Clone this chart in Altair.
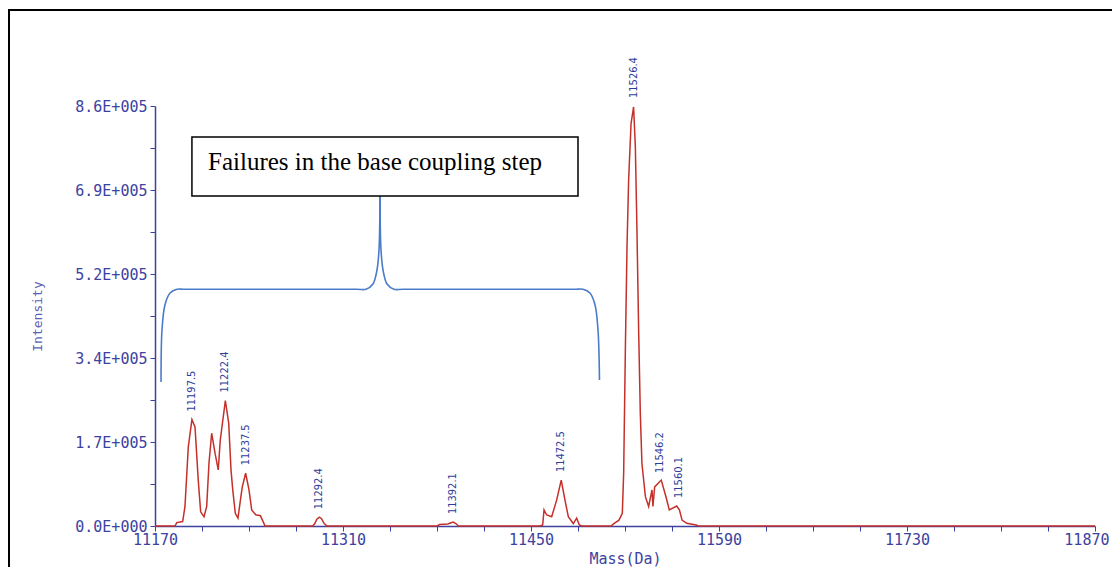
import altair as alt
import pandas as pd

# ---------------- data ----------------
mass_da = [11170, 11184.9, 11186.2, 11190.6, 11192.3, 11194.8, 11197.5, 11199.8, 11202.2, 11204.0,
           11206.5, 11208.5, 11210.2, 11212.2, 11214.7, 11217.1, 11218.6, 11222.4, 11224.9, 11226.6,
           11227.9, 11229.8, 11231.8, 11233.6, 11235.0, 11237.5, 11240.0, 11242.0, 11245.0, 11248.5,
           11250.0, 11252.0,
           11287.5, 11289.0, 11290.5, 11292.4, 11294.0, 11296.0, 11298.0,
           11380.0, 11382.0, 11388.0, 11390.0, 11392.1, 11394.0, 11396.0,
           11456.7, 11458.7, 11459.7, 11461.7, 11465.4, 11469.1, 11472.5, 11475.3, 11477.8, 11481.5,
           11484.0, 11486.0, 11487.8,
           11509.5, 11512.0, 11515.5, 11518.0, 11519.0, 11520.3, 11521.5, 11522.7, 11524.5, 11526.4,
           11527.7, 11528.9, 11530.2, 11531.4, 11532.6, 11535.2, 11537.6, 11540.1, 11540.8, 11542.1,
           11547.0, 11550.5, 11553.0, 11558.5, 11560.5, 11562.5, 11566.0, 11573.0, 11574.6,
           11870]
intensity = [0, 0, 7000, 9000, 39500, 162000, 218000, 203000, 94000, 29000,
             19000, 40000, 129000, 190000, 149000, 115000, 176000, 257000, 210000, 115000,
             74000, 26000, 16000, 53000, 80000, 108000, 74000, 33000, 23000, 21000,
             12000, 0,
             0, 5000, 14000, 18000, 15000, 5000, 0,
             0, 3000, 4000, 6000, 8000, 5000, 0,
             0, 2000, 33000, 22500, 19000, 53000, 94000, 53000, 19000, 5000,
             16000, 2000, 0,
             0, 5500, 12000, 26000, 108000, 367000, 572000, 708000, 824000, 858000,
             777000, 606000, 395000, 231000, 128000, 60000, 40000, 74000, 40000, 80000,
             94000, 60000, 33000, 41000, 33000, 12000, 5500, 2000, 0,
             0]

peak_labels = ["11197.5", "11222.4", "11237.5", "11292.4", "11392.1",
               "11472.5", "11526.4", "11546.2", "11560.1"]
peak_label_intensity = [218000, 257000, 108000, 18000, 8000, 94000, 860000, 92000, 41000]

# curly brace annotation (data units)
brace_left_mass = [11174.5, 11175.2, 11177.4, 11181.2, 11186.4, 11192.0, 11320.0, 11327.1,
                   11332.3, 11335.3, 11336.8, 11337.55]
brace_left_int = [295000, 401000, 452500, 477000, 484700, 484700, 484700, 484700,
                  495500, 524200, 565100, 675700]
brace_right_mass = [11337.55, 11338.3, 11339.8, 11342.8, 11348.0, 11355.0, 11482.0, 11488.7,
                    11493.9, 11497.7, 11499.9, 11501.0]
brace_right_int = [675700, 565100, 524200, 495500, 484700, 484700, 484700, 484700,
                   477000, 452500, 401000, 299000]

note_text = "Failures in the base coupling step"
note_box_mass = [11197.5, 11485.0]
note_box_int = [675700, 796500]
note_text_pos = [11209.5, 729000]

x_tick_labels = ["11170", "11310", "11450", "11590", "11730", "11870"]
y_tick_labels = ["0.0E+000", "1.7E+005", "3.4E+005", "5.2E+005", "6.9E+005", "8.6E+005"]

# ---------------- styling ----------------
AXIS_BLUE = "#3d42a0"
TITLE_BLUE = "#5a60b8"
LABEL_BLUE = "#2e3d99"
RED = "#c4302a"
BRACE = "#4a7cc9"
MONO = "DejaVu Sans Mono"

x_ticks = list(range(11170, 11871, 35))
y_ticks = list(range(0, 860001, 43000))

x_arr = "[" + ",".join("'%s'" % s for s in x_tick_labels) + "]"
y_arr = "[" + ",".join("'%s'" % s for s in y_tick_labels) + "]"
x_label_expr = f"(datum.value - 11170) % 140 == 0 ? {x_arr}[(datum.value - 11170) / 140] : ''"
y_label_expr = f"datum.value % 172000 == 0 ? {y_arr}[datum.value / 172000] : ''"

spec_df = pd.DataFrame({"mass": mass_da, "intensity": intensity})
lab_df = pd.DataFrame({"mass": [float(s) for s in peak_labels],
                       "intensity": peak_label_intensity, "label": peak_labels})
brace_df = pd.DataFrame({
    "mass": brace_left_mass + brace_right_mass,
    "intensity": brace_left_int + brace_right_int,
    "side": ["left"] * len(brace_left_mass) + ["right"] * len(brace_right_mass),
    "ord": list(range(len(brace_left_mass))) + list(range(len(brace_right_mass))),
})
box_df = pd.DataFrame({"mass": [note_box_mass[0]], "mass2": [note_box_mass[1]],
                       "intensity": [note_box_int[0]], "intensity2": [note_box_int[1]]})
note_df = pd.DataFrame({"mass": [note_text_pos[0]], "intensity": [note_text_pos[1]], "t": [note_text]})
frame_df = pd.DataFrame({"k": [0]})

last_x = "datum.value == 11870"
x_enc = alt.X("mass:Q", title="Mass(Da)",
              scale=alt.Scale(domain=[11170, 11870], nice=False, zero=False),
              axis=alt.Axis(values=x_ticks, labelExpr=x_label_expr, grid=False,
                            labelFont=MONO, labelFontSize=15, labelColor=AXIS_BLUE,
                            labelAlign=alt.condition(last_x, alt.value("right"), alt.value("center")),
                            labelOffset=alt.condition(last_x, alt.value(14), alt.value(0)),
                            tickColor=AXIS_BLUE, domainColor=AXIS_BLUE, domainWidth=1.5,
                            tickSize=5, labelPadding=1, labelOverlap=False, labelFlush=False,
                            titleFont=MONO, titleFontSize=15, titleFontWeight="normal",
                            titleColor=AXIS_BLUE, titlePadding=4))
y_enc = alt.Y("intensity:Q", title="Intensity",
              scale=alt.Scale(domain=[0, 860000], nice=False, zero=True),
              axis=alt.Axis(values=y_ticks, labelExpr=y_label_expr, grid=False,
                            labelFont=MONO, labelFontSize=15, labelColor=AXIS_BLUE,
                            tickColor=AXIS_BLUE, domainColor=AXIS_BLUE, domainWidth=1.5,
                            tickSize=5, labelPadding=3, labelOverlap=False, labelFlush=False,
                            titleFont=MONO, titleFontSize=13, titleFontWeight="normal",
                            titleColor=TITLE_BLUE, titlePadding=30))

frame = alt.Chart(frame_df).mark_rect(fill="transparent", stroke="black", strokeWidth=2).encode(
    x=alt.value(-146), x2=alt.value(1100), y=alt.value(-96), y2=alt.value(600))

spectrum = alt.Chart(spec_df).mark_line(color=RED, strokeWidth=1.5).encode(x=x_enc, y=y_enc)

brace = alt.Chart(brace_df).mark_line(color=BRACE, strokeWidth=1.6, interpolate="catmull-rom").encode(
    x="mass:Q", y="intensity:Q", detail="side:N", order="ord:Q")

box = alt.Chart(box_df).mark_rect(fill="white", stroke="black", strokeWidth=1.5).encode(
    x="mass:Q", x2="mass2:Q", y="intensity:Q", y2="intensity2:Q")

note = alt.Chart(note_df).mark_text(font="Liberation Serif", fontSize=25, align="left",
                                    baseline="alphabetic", color="black").encode(
    x="mass:Q", y="intensity:Q", text="t:N")

labels = alt.Chart(lab_df).mark_text(font="DejaVu Sans Condensed, Liberation Sans", fontSize=11,
                                     angle=270, align="left", baseline="middle", dx=8,
                                     color=LABEL_BLUE).encode(
    x="mass:Q", y="intensity:Q", text="label:N")

chart = alt.layer(frame, spectrum, brace, box, note, labels).properties(
    width=940, height=420,
    autosize=alt.AutoSizeParams(type="none"),
    padding={"left": 147, "top": 98, "right": 17, "bottom": 41},
    background="white",
).configure_view(stroke=None)

chart.save("out.html", embed_options={"renderer": "svg", "actions": False})
